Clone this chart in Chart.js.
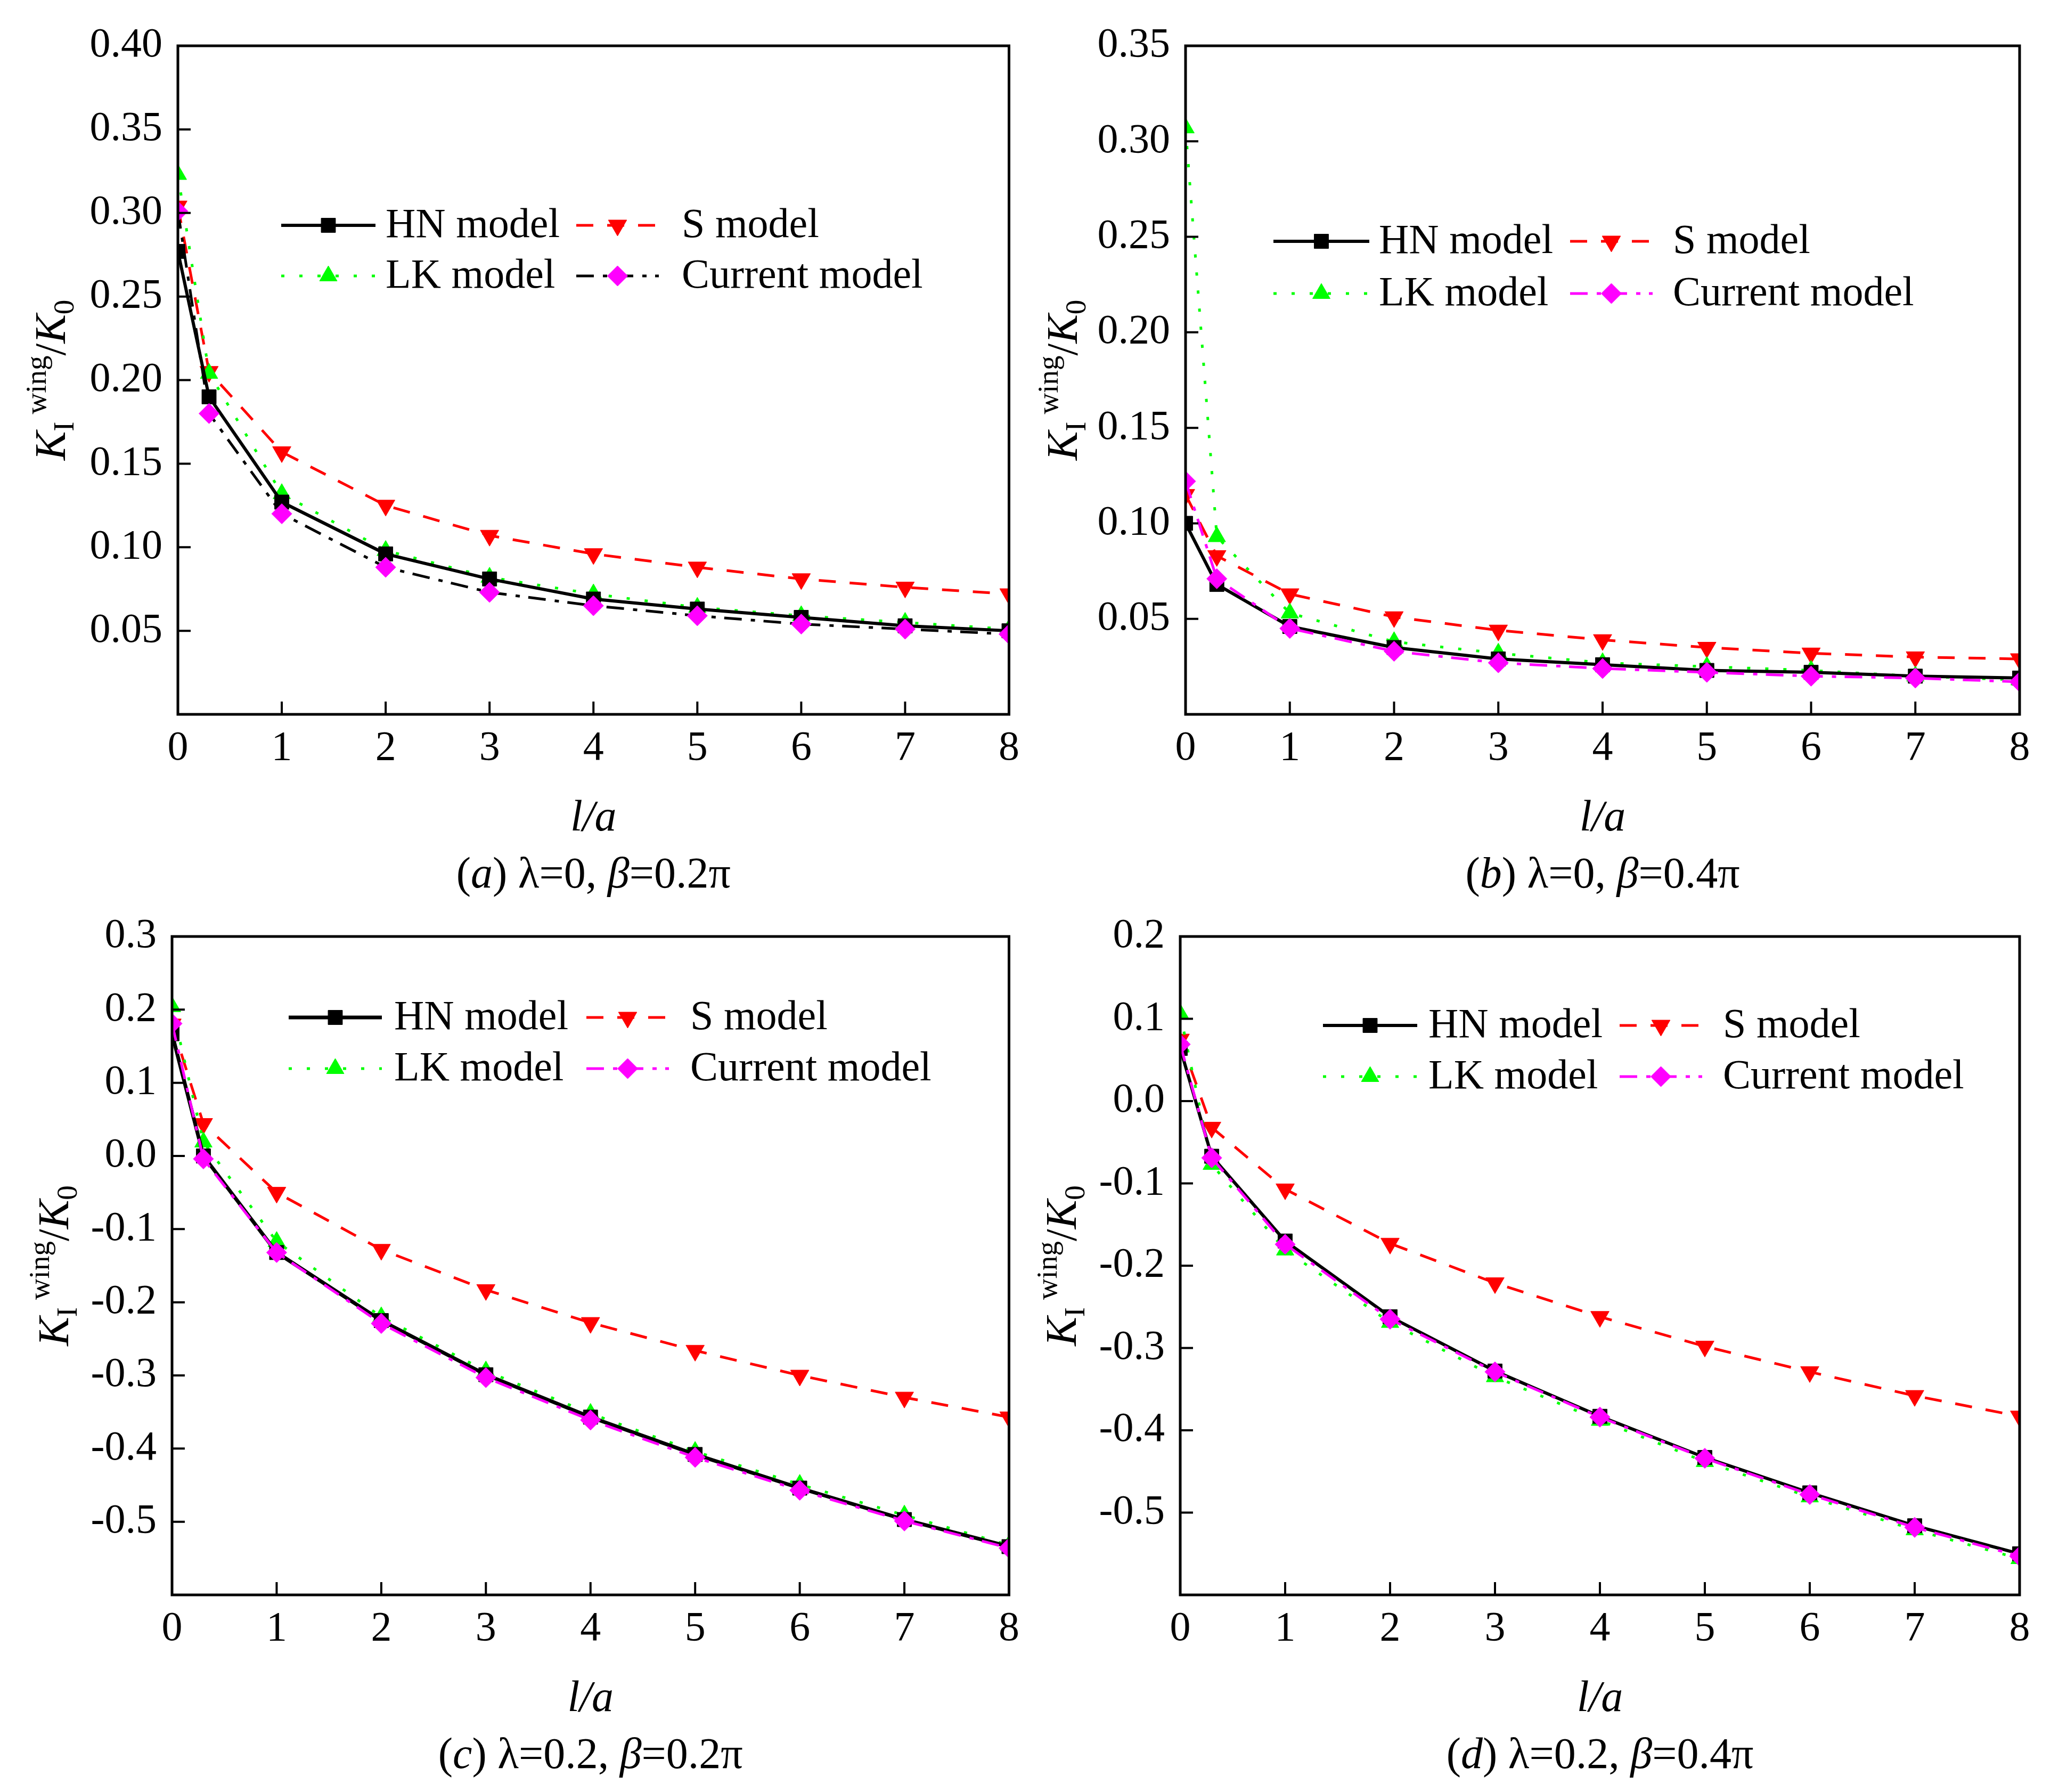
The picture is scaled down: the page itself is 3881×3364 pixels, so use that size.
<!DOCTYPE html>
<html>
<head>
<meta charset="utf-8">
<script src="https://cdn.jsdelivr.net/npm/chart.js@4.4.0/dist/chart.umd.min.js"></script>
<style>
  html, body { margin: 0; padding: 0; background: #fff; }
  canvas { position: absolute; }
</style>
</head>
<body>
<canvas id="panelA" width="1940" height="1690" style="left:0px;top:0px"></canvas>
<canvas id="panelB" width="1941" height="1690" style="left:1940px;top:0px"></canvas>
<canvas id="panelC" width="1940" height="1674" style="left:0px;top:1690px"></canvas>
<canvas id="panelD" width="1941" height="1674" style="left:1940px;top:1690px"></canvas>
<script>
// l/a values shared by every panel
const xValues = [0, 0.3, 1, 2, 3, 4, 5, 6, 7, 8];
const seriesNames = ['HN model', 'S model', 'LK model', 'Current model'];

// (a) lambda=0, beta=0.2pi
const hnA  = [0.277, 0.190, 0.127, 0.096, 0.081, 0.069, 0.063, 0.058, 0.053, 0.050];
const sA   = [0.304, 0.205, 0.157, 0.125, 0.107, 0.096, 0.088, 0.081, 0.076, 0.072];
const lkA  = [0.323, 0.204, 0.132, 0.098, 0.082, 0.072, 0.064, 0.059, 0.055, 0.051];
const curA = [0.301, 0.180, 0.120, 0.088, 0.073, 0.065, 0.059, 0.054, 0.051, 0.048];

// (b) lambda=0, beta=0.4pi
const hnB  = [0.100, 0.068, 0.046, 0.035, 0.029, 0.026, 0.023, 0.022, 0.020, 0.019];
const sB   = [0.115, 0.083, 0.063, 0.051, 0.044, 0.039, 0.035, 0.032, 0.030, 0.029];
const lkB  = [0.307, 0.093, 0.053, 0.038, 0.032, 0.027, 0.025, 0.023, 0.020, 0.018];
const curB = [0.122, 0.071, 0.045, 0.033, 0.027, 0.024, 0.022, 0.020, 0.019, 0.017];

// (c) lambda=0.2, beta=0.2pi
const hnC  = [0.167, 0.000, -0.132, -0.225, -0.299, -0.357, -0.408, -0.454, -0.497, -0.534];
const sC   = [0.180, 0.044, -0.050, -0.128, -0.183, -0.228, -0.266, -0.300, -0.330, -0.357];
const lkC  = [0.204, 0.019, -0.117, -0.220, -0.294, -0.352, -0.404, -0.449, -0.491, -0.532];
const curC = [0.181, -0.004, -0.132, -0.229, -0.303, -0.361, -0.412, -0.457, -0.499, -0.536];

// (d) lambda=0.2, beta=0.4pi
const hnD  = [0.064, -0.067, -0.170, -0.262, -0.328, -0.383, -0.433, -0.476, -0.516, -0.550];
const sD   = [0.075, -0.032, -0.107, -0.173, -0.221, -0.262, -0.298, -0.329, -0.358, -0.383];
const lkD  = [0.106, -0.077, -0.181, -0.269, -0.335, -0.388, -0.438, -0.481, -0.521, -0.556];
const curD = [0.069, -0.069, -0.174, -0.265, -0.329, -0.384, -0.434, -0.478, -0.518, -0.553];

// caption pieces: [text, italic?]
const captionA = [['(', false], ['a', true], [') λ=0, ', false], ['β', true], ['=0.2π', false]];
const captionB = [['(', false], ['b', true], [') λ=0, ', false], ['β', true], ['=0.4π', false]];
const captionC = [['(', false], ['c', true], [') λ=0.2, ', false], ['β', true], ['=0.2π', false]];
const captionD = [['(', false], ['d', true], [') λ=0.2, ', false], ['β', true], ['=0.4π', false]];

const FONT = "'Liberation Serif', 'Times New Roman', serif";

function points(values) {
  return values.map((v, i) => ({ x: xValues[i], y: v }));
}

function drawMarker(ctx, ds, x, y) {
  ctx.save();
  ctx.setLineDash([]);
  ctx.fillStyle = ds.pointBackgroundColor;
  ctx.strokeStyle = ds.pointBorderColor;
  ctx.lineWidth = 1;
  Chart.helpers.drawPoint(ctx, {
    pointStyle: ds.pointStyle,
    rotation: ds.pointRotation || 0,
    radius: ds.pointRadius,
    borderWidth: 1
  }, x, y);
  ctx.restore();
}

function drawPieces(ctx, pieces, cx, y, size) {
  let total = 0;
  pieces.forEach(p => {
    ctx.font = (p[1] ? 'italic ' : '') + size + 'px ' + FONT;
    total += ctx.measureText(p[0]).width;
  });
  let x = cx - total / 2;
  ctx.textAlign = 'left';
  pieces.forEach(p => {
    ctx.font = (p[1] ? 'italic ' : '') + size + 'px ' + FONT;
    ctx.fillText(p[0], x, y);
    x += ctx.measureText(p[0]).width;
  });
}

const decor = {
  id: 'decor',
  afterDatasetsDraw(chart, args, opts) {
    const ctx = chart.ctx;
    const a = chart.chartArea;
    const xs = chart.scales.x, ys = chart.scales.y;
    ctx.save();
    // frame with inward ticks
    ctx.strokeStyle = '#000';
    ctx.lineWidth = 5;
    ctx.setLineDash([]);
    ctx.strokeRect(a.left, a.top, a.right - a.left, a.bottom - a.top);
    ctx.lineWidth = 4;
    ctx.beginPath();
    ys.ticks.forEach(t => {
      const py = ys.getPixelForValue(t.value);
      ctx.moveTo(a.left, py); ctx.lineTo(a.left + 24, py);
    });
    xs.ticks.forEach(t => {
      const px = xs.getPixelForValue(t.value);
      ctx.moveTo(px, a.bottom); ctx.lineTo(px, a.bottom - 24);
    });
    ctx.stroke();

    // legend, 2 x 2
    const lg = opts.legend;
    const layoutOrder = [[0, 0], [0, 1], [1, 0], [1, 1]];
    chart.data.datasets.forEach((ds, i) => {
      const [r, c] = layoutOrder[i];
      const y = a.top + lg.rows[r];
      const col = lg.cols[c];
      const x0 = a.left + col.line[0], x1 = a.left + col.line[1];
      ctx.save();
      ctx.strokeStyle = ds.borderColor;
      ctx.lineWidth = ds.borderWidth;
      ctx.setLineDash(ds.borderDash || []);
      ctx.beginPath();
      ctx.moveTo(x0, y); ctx.lineTo(x1, y);
      ctx.stroke();
      ctx.restore();
      drawMarker(ctx, ds, (x0 + x1) / 2, y);
      ctx.fillStyle = '#000';
      ctx.font = '78px ' + FONT;
      ctx.textAlign = 'left';
      ctx.textBaseline = 'middle';
      ctx.fillText(ds.label, a.left + col.text, y + 2);
    });

    // y axis title K_I^wing / K_0
    ctx.save();
    ctx.translate(a.left - opts.yTitleOffset, (a.top + a.bottom) / 2);
    ctx.rotate(-Math.PI / 2);
    ctx.fillStyle = '#000';
    ctx.textBaseline = 'alphabetic';
    const parts = [
      ['K', 'italic 82px', 0], ['I', '55px', 16], [' wing', '55px', -36],
      ['/', '82px', 0], ['K', 'italic 82px', 0], ['0', '55px', 16]
    ];
    let w = 0;
    parts.forEach(p => { ctx.font = p[1] + ' ' + FONT; w += ctx.measureText(p[0]).width; });
    let px = -w / 2;
    ctx.textAlign = 'left';
    parts.forEach(p => {
      ctx.font = p[1] + ' ' + FONT;
      ctx.fillText(p[0], px, p[2]);
      px += ctx.measureText(p[0]).width;
    });
    ctx.restore();

    // caption
    ctx.fillStyle = '#000';
    ctx.textBaseline = 'alphabetic';
    drawPieces(ctx, opts.caption, (a.left + a.right) / 2, a.bottom + 325, 82);
    ctx.restore();
  }
};

function makePanel(id, cfg) {
  const canvas = document.getElementById(id);
  const H = canvas.height;
  const xHeight = H - cfg.area.bottom;
  const titleCenter = cfg.area.bottom + 196;
  const datasets = [
    {
      label: seriesNames[0], data: points(cfg.hn),
      borderColor: '#000000', borderWidth: cfg.hnWidth || 6, borderDash: [],
      pointStyle: 'rect', pointRadius: 19,
      pointBackgroundColor: '#000000', pointBorderColor: '#000000', order: 1
    },
    {
      label: seriesNames[1], data: points(cfg.s),
      borderColor: '#ff0000', borderWidth: 5, borderDash: [32, 26],
      pointStyle: 'triangle', pointRotation: 180, pointRadius: 20,
      pointBackgroundColor: '#ff0000', pointBorderColor: '#ff0000', order: 3
    },
    {
      label: seriesNames[2], data: points(cfg.lk),
      borderColor: '#00ff00', borderWidth: 5, borderDash: [6, 28],
      pointStyle: 'triangle', pointRadius: 19,
      pointBackgroundColor: '#00ff00', pointBorderColor: '#00ff00', order: 2
    },
    {
      label: seriesNames[3], data: points(cfg.cur),
      borderColor: cfg.curLine, borderWidth: 5, borderDash: [33, 17, 8, 16],
      pointStyle: 'rectRot', pointRadius: 19,
      pointBackgroundColor: '#ff00ff', pointBorderColor: '#ff00ff', order: 0
    }
  ];
  datasets.forEach(d => { d.clip = 0; d.tension = 0; d.fill = false; d.pointBorderWidth = 1; });

  return new Chart(canvas, {
    type: 'line',
    data: { datasets },
    options: {
      responsive: false,
      animation: false,
      devicePixelRatio: 1,
      events: [],
      layout: { padding: { left: 0, top: cfg.area.top, right: canvas.width - cfg.area.right, bottom: 0 } },
      plugins: {
        legend: { display: false },
        tooltip: { enabled: false },
        decor: { legend: cfg.legend, caption: cfg.caption, yTitleOffset: cfg.yTitleOffset }
      },
      scales: {
        x: {
          type: 'linear', min: 0, max: 8,
          grid: { display: false, drawTicks: false },
          border: { display: false },
          ticks: {
            stepSize: 1, padding: 26, color: '#000', maxRotation: 0, autoSkip: false,
            font: { family: FONT, size: 78, lineHeight: 1 }
          },
          title: {
            display: true, text: 'l/a', color: '#000',
            font: { family: FONT, size: 82, style: 'italic', lineHeight: 1 },
            padding: { top: 0, bottom: H - titleCenter - 41 }
          },
          afterFit(s) { s.height = xHeight; }
        },
        y: {
          type: 'linear', min: cfg.yMin, max: cfg.yMax,
          grid: { display: false, drawTicks: false },
          border: { display: false },
          ticks: {
            stepSize: cfg.yStep, padding: 29, color: '#000', autoSkip: false,
            font: { family: FONT, size: 78, lineHeight: 1 },
            callback(v) {
              if (Math.abs(v - cfg.yMin) < 1e-9) return '';
              const val = Math.abs(v) < 1e-9 ? 0 : v;
              return val.toFixed(cfg.yDecimals);
            }
          },
          afterFit(s) { s.width = cfg.area.left; }
        }
      }
    },
    plugins: [decor]
  });
}

makePanel('panelA', {
  hn: hnA, s: sA, lk: lkA, cur: curA, curLine: '#000000',
  yMin: 0, yMax: 0.40, yStep: 0.05, yDecimals: 2,
  area: { left: 334, right: 1899, top: 86, bottom: 1341 },
  legend: { rows: [337, 432], cols: [{ line: [194, 371], text: 390 }, { line: [748, 903], text: 946 }] },
  caption: captionA, yTitleOffset: 212
});

makePanel('panelB', {
  hn: hnB, s: sB, lk: lkB, cur: curB, curLine: '#ff00ff',
  yMin: 0, yMax: 0.35, yStep: 0.05, yDecimals: 2,
  area: { left: 286, right: 1852, top: 86, bottom: 1341 },
  legend: { rows: [367, 465], cols: [{ line: [165, 345], text: 363 }, { line: [722, 877], text: 915 }] },
  caption: captionB, yTitleOffset: 204
});

makePanel('panelC', {
  hn: hnC, s: sC, lk: lkC, cur: curC, curLine: '#ff00ff', hnWidth: 7,
  yMin: -0.6, yMax: 0.3, yStep: 0.1, yDecimals: 1,
  area: { left: 323, right: 1899, top: 44, bottom: 1304 },
  legend: { rows: [152, 248], cols: [{ line: [219, 394], text: 417 }, { line: [778, 933], text: 973 }] },
  caption: captionC, yTitleOffset: 195
});

makePanel('panelD', {
  hn: hnD, s: sD, lk: lkD, cur: curD, curLine: '#ff00ff',
  yMin: -0.6, yMax: 0.2, yStep: 0.1, yDecimals: 1,
  area: { left: 276, right: 1852, top: 44, bottom: 1304 },
  legend: { rows: [167, 263], cols: [{ line: [268, 445], text: 466 }, { line: [825, 980], text: 1019 }] },
  caption: captionD, yTitleOffset: 196
});
</script>
</body>
</html>
